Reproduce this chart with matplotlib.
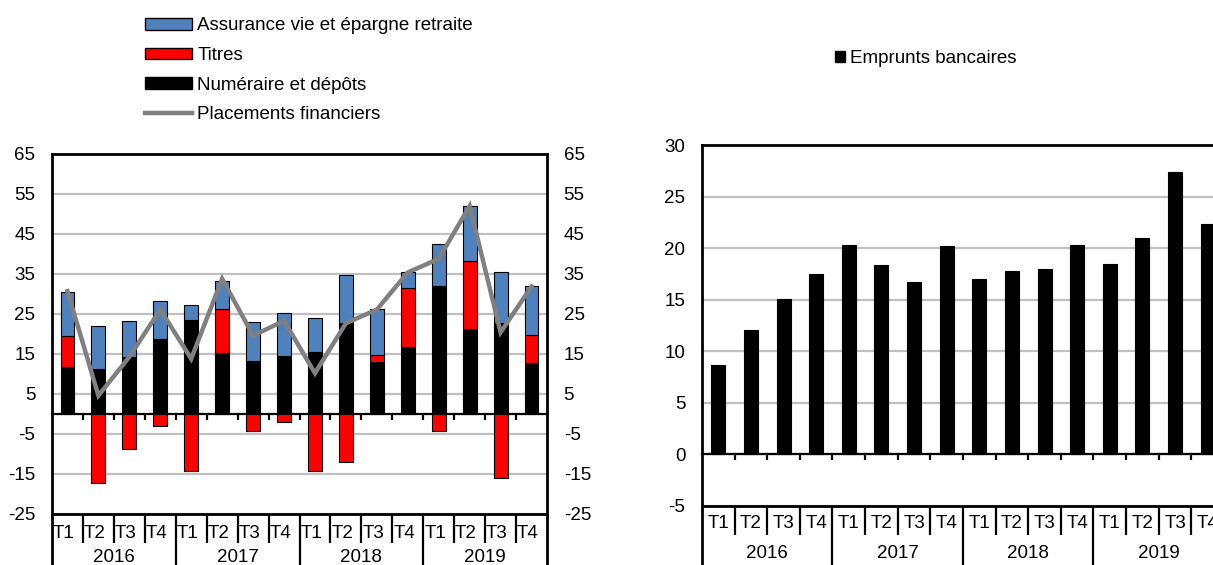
import matplotlib
matplotlib.use('Agg')
import matplotlib.pyplot as plt
import matplotlib.transforms as mtransforms
from matplotlib.patches import Patch
from matplotlib.lines import Line2D
import numpy as np

plt.rcParams['font.family'] = ['Liberation Sans', 'DejaVu Sans']
plt.rcParams['font.size'] = 13.5
plt.rcParams['axes.unicode_minus'] = False

# ---------------- data ----------------
years = ['2016', '2017', '2018', '2019']
quarters = ['T1', 'T2', 'T3', 'T4']

numeraire = [11.7, 11.3, 14.2, 18.8, 23.5, 15.3, 13.2, 14.5,
             15.6, 22.7, 12.9, 16.7, 32.1, 21.3, 22.7, 12.8]
titres = [7.7, -17.3, -8.7, -3.1, -14.2, 10.9, -4.2, -2.1,
          -14.2, -12.1, 1.8, 14.8, -4.2, 17.0, -16.0, 7.0]
assurance = [11.1, 10.6, 9.1, 9.5, 3.8, 7.1, 9.7, 10.7,
             8.4, 12.1, 11.5, 4.0, 10.5, 13.6, 12.7, 12.1]
placements = [30.7, 4.6, 14.3, 26.1, 13.8, 33.8, 19.6, 23.3,
              10.2, 22.7, 26.1, 35.4, 38.8, 52.0, 20.4, 31.9]

emprunts = [8.7, 12.1, 15.05, 17.5, 20.3, 18.35, 16.7, 20.2,
            17.0, 17.8, 17.95, 20.3, 18.5, 21.0, 27.35, 22.35]

labels_left = ['Assurance vie et épargne retraite', 'Titres',
               'Numéraire et dépôts', 'Placements financiers']
label_right = 'Emprunts bancaires'

BLUE = '#4F81BD'
RED = '#FF0000'
BLACK = '#000000'
GRAY = '#808080'
GRID = '#C0C0C0'
FS = 13.5

W, H = 1213, 565
fig = plt.figure(figsize=(W / 100, H / 100), dpi=100)


def px_axes(l, t, r, b):
    return fig.add_axes([l / W, 1 - b / H, (r - l) / W, (b - t) / H])


def category_axis(ax, h_px, row_px, t_y_px, yr_y_px, shift=0.0):
    trans = mtransforms.blended_transform_factory(ax.transData, ax.transAxes)
    n = len(years) * len(quarters)
    for k in range(n + 1):
        xb = k - 0.5
        if k % 4 == 0:
            ax.plot([xb, xb], [0, -80 / h_px], transform=trans, color='black',
                    lw=2.0 if k in (0, n) else 1.6, clip_on=False, solid_capstyle='butt')
        else:
            ax.plot([xb, xb], [0, -row_px / h_px], transform=trans, color='black',
                    lw=1.6, clip_on=False, solid_capstyle='butt')
    i = 0
    for y in years:
        for q in quarters:
            ax.text(i + shift, -t_y_px / h_px, q, transform=trans, ha='center',
                    va='center', fontsize=FS, clip_on=False)
            i += 1
    for j, y in enumerate(years):
        ax.text(j * 4 + 1.5, -yr_y_px / h_px, y, transform=trans, ha='center',
                va='center', fontsize=FS, clip_on=False)


def style_axes(ax, ylo, yhi, step):
    n = 16
    ax.set_xlim(-0.5, n - 0.5)
    ax.set_ylim(ylo, yhi)
    ax.set_yticks(np.arange(ylo, yhi + 0.1, step))
    ax.yaxis.grid(True, color=GRID, lw=1.6)
    ax.set_axisbelow(True)
    for s in ax.spines.values():
        s.set_linewidth(2.0)
    ax.spines['bottom'].set_position(('data', 0))
    ax.spines['bottom'].set_linewidth(1.6)
    ax.plot([0, 1], [0, 0], transform=ax.transAxes, color='black', lw=2.0,
            clip_on=False, solid_capstyle='butt')
    ax.set_xticks(np.arange(0.5, n - 1, 1.0))
    ax.tick_params(axis='x', length=4, width=1.6, direction='out',
                   labelbottom=False)
    ax.tick_params(axis='y', length=0, pad=12, labelsize=FS)


# ---------------- left chart ----------------
ax1 = px_axes(52, 154, 547, 514)
x = np.arange(len(numeraire))
bw = 0.45
pos = np.zeros(len(x))
neg = np.zeros(len(x))
for vals, col in [(numeraire, BLACK), (titres, RED), (assurance, BLUE)]:
    v = np.array(vals, dtype=float)
    bottom = np.where(v >= 0, pos, neg)
    ax1.bar(x, v, bw, bottom=bottom, color=col, edgecolor='black', lw=0.8,
            zorder=3)
    pos += np.clip(v, 0, None)
    neg += np.clip(v, None, 0)
ax1.plot(x, placements, color=GRAY, lw=3.2, zorder=5, solid_joinstyle='miter')
style_axes(ax1, -25, 65, 10)
ax1.tick_params(axis='y', labelleft=True, labelright=True)
category_axis(ax1, 360, 29, 19, 43, shift=-0.12)

handles = [Patch(facecolor=BLUE, edgecolor='black', lw=1),
           Patch(facecolor=RED, edgecolor='black', lw=1),
           Patch(facecolor=BLACK, edgecolor='black', lw=1),
           Line2D([], [], color=GRAY, lw=3.2)]
fig.legend(handles, labels_left, loc='upper left',
           bbox_to_anchor=(145 / W, 1 - 17.5 / H), frameon=False,
           borderpad=0, borderaxespad=0, handlelength=2.5, handleheight=0.58,
           handletextpad=0.28, labelspacing=0.67, fontsize=FS)

# ---------------- right chart ----------------
ax2 = px_axes(702, 145, 1224, 506)
ax2.bar(x, emprunts, 0.43, color=BLACK, edgecolor='black', lw=0.8, zorder=3)
style_axes(ax2, -5, 30, 5)
category_axis(ax2, 361, 29, 18, 47, shift=0.0)
fig.legend([Patch(facecolor=BLACK, edgecolor='black')], [label_right],
           loc='upper left', bbox_to_anchor=(835 / W, 1 - 50 / H),
           frameon=False, borderpad=0, borderaxespad=0, handlelength=0.55,
           handleheight=0.55, handletextpad=0.25, fontsize=FS)

fig.savefig('out.png', dpi=100)
